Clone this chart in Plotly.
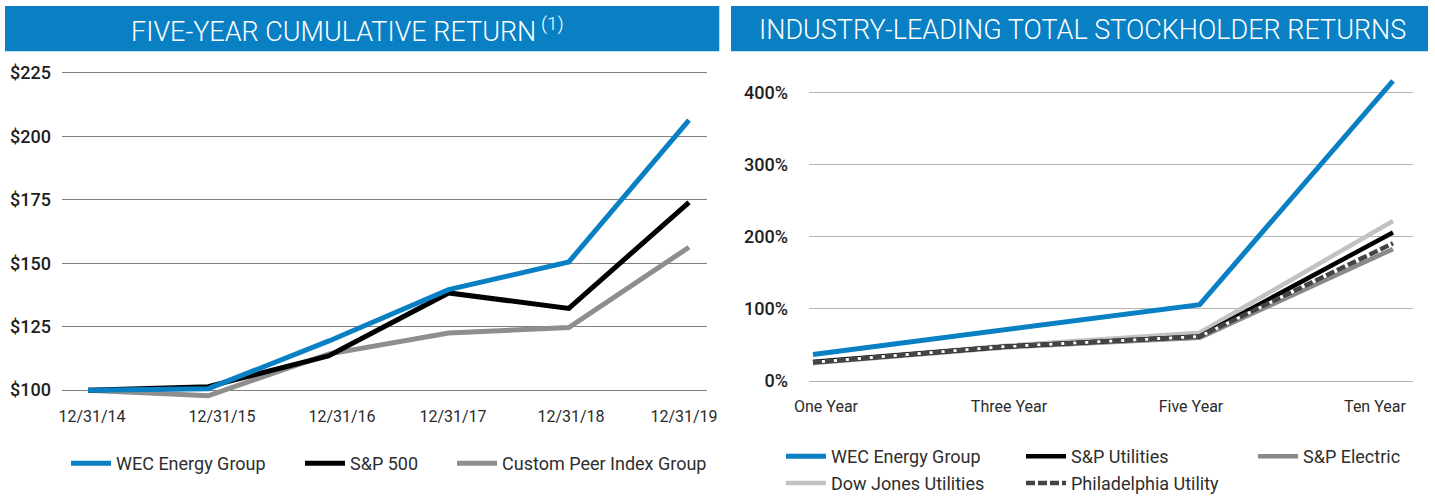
import plotly.graph_objects as go

# ---------------- data ----------------
dates = ["12/31/14", "12/31/15", "12/31/16", "12/31/17", "12/31/18", "12/31/19"]
wec_cum = [100, 100.6, 119.3, 139.6, 150.5, 206.4]
sp500_cum = [100, 101.4, 113.5, 138.3, 132.2, 174.0]
peer_cum = [100, 97.8, 114.2, 122.5, 124.7, 156.3]

periods = ["One Year", "Three Year", "Five Year", "Ten Year"]
wec_tsr = [37, 71, 106, 416]
sp_util_tsr = [26.4, 48, 62, 206]
sp_elec_tsr = [25, 47, 60, 183]
dj_util_tsr = [27, 49, 67, 222]
phil_util_tsr = [26, 48, 62, 191]

left_title = "FIVE-YEAR CUMULATIVE RETURN"
right_title = "INDUSTRY-LEADING TOTAL STOCKHOLDER RETURNS"

# ---------------- styling ----------------
W, H = 1435, 502
BLUE = "#0a80c4"
FONT = "Roboto"
TXT = "#2b2b2b"


def px(x):
    return x / W


def py(y):
    return 1 - y / H


fig = go.Figure()

# left chart traces
left_series = [
    ("Custom Peer Index Group", peer_cum, "#8e8e8e", 5, "legend3"),
    ("S&P 500", sp500_cum, "#000000", 5, "legend2"),
    ("WEC Energy Group", wec_cum, BLUE, 5, "legend"),
]
for name, vals, col, w, lg in left_series:
    fig.add_trace(go.Scatter(x=dates, y=vals, mode="lines", name=name,
                             line=dict(color=col, width=w), xaxis="x", yaxis="y",
                             legend=lg))

# right chart traces
fig.add_trace(go.Scatter(x=periods, y=sp_elec_tsr, mode="lines", name="S&P Electric",
                         line=dict(color="#8a8a8a", width=4.5), xaxis="x2", yaxis="y2",
                         legend="legend6"))
fig.add_trace(go.Scatter(x=periods, y=dj_util_tsr, mode="lines", name="Dow Jones Utilities",
                         line=dict(color="#c2c2c2", width=4.5), xaxis="x2", yaxis="y2",
                         legend="legend7"))
fig.add_trace(go.Scatter(x=periods, y=sp_util_tsr, mode="lines", name="S&P Utilities",
                         line=dict(color="#000000", width=4.5), xaxis="x2", yaxis="y2",
                         legend="legend5"))
fig.add_trace(go.Scatter(x=periods, y=phil_util_tsr, mode="lines", name="Philadelphia Utility",
                         line=dict(color="#ffffff", width=3), xaxis="x2", yaxis="y2",
                         showlegend=False, hoverinfo="skip"))
fig.add_trace(go.Scatter(x=periods, y=phil_util_tsr, mode="lines", name="Philadelphia Utility",
                         line=dict(color="#444444", width=4.5, dash="9px,3px"),
                         xaxis="x2", yaxis="y2", legend="legend8"))
fig.add_trace(go.Scatter(x=periods, y=wec_tsr, mode="lines", name="WEC Energy Group",
                         line=dict(color=BLUE, width=5), xaxis="x2", yaxis="y2",
                         legend="legend4"))

# ---------------- axes ----------------
L_X0, L_X1 = 62, 706.7
L_P0, L_STEP = 88, 120.2
R_X0, R_X1 = 809, 1413
R_P0, R_STEP = 813, 193.33

l_range = [(L_X0 - L_P0) / L_STEP, (L_X1 - L_P0) / L_STEP]
r_range = [(R_X0 - R_P0) / R_STEP, (R_X1 - R_P0) / R_STEP]

# label centres (px) -> positions along the category index
l_label_px = [92, 222, 342, 453, 571, 684]
r_label_px = [826, 1009, 1191, 1375]
l_tickpos = [(p - L_P0) / L_STEP for p in l_label_px]
r_tickpos = [(p - R_P0) / R_STEP for p in r_label_px]

tickfont_x = dict(family=FONT, size=16, color=TXT)
tickfont_y = dict(family=FONT, size=18, color="#1e1e1e", weight=500)

# left y: $100 at 396.5px, $225 at 74px
l_ppu = (396.5 - 74) / 125
l_yr = [96, 226]
l_top = 74 - (226 - 225) * l_ppu
l_bot = 396.5 + (100 - 96) * l_ppu

# right y: 0% at 387.3px, 400% at 94px
r_ppu = (387.3 - 94) / 400
r_yr = [-5, 425]
r_top = 94 - (425 - 400) * r_ppu
r_bot = 387.3 + 5 * r_ppu

common = dict(zeroline=False, showline=False, automargin=False)

fig.update_layout(
    width=W, height=H, autosize=False,
    margin=dict(l=0, r=0, t=0, b=0, pad=0),
    paper_bgcolor="white", plot_bgcolor="white",
    font=dict(family=FONT, color=TXT),
    xaxis=dict(domain=[px(L_X0), px(L_X1)], type="category", range=l_range,
               showticklabels=False, showgrid=False, anchor="y", **common),
    xaxis3=dict(overlaying="x", anchor="y", range=l_range, tickmode="array",
                tickvals=l_tickpos, ticktext=dates, tickfont=tickfont_x,
                showgrid=False, ticks="", ticklabelstandoff=5, **common),
    yaxis=dict(domain=[py(l_bot), py(l_top)], range=l_yr, tick0=100, dtick=25,
               tickprefix="$", showgrid=True, gridcolor="#7f7f7f", gridwidth=1,
               tickfont=tickfont_y, ticklabelstandoff=10, anchor="x", **common),
    xaxis2=dict(domain=[px(R_X0), px(R_X1)], type="category", range=r_range,
                showticklabels=False, showgrid=False, anchor="y2", **common),
    xaxis4=dict(overlaying="x2", anchor="y2", range=r_range, tickmode="array",
                tickvals=r_tickpos, ticktext=periods, tickfont=tickfont_x,
                showgrid=False, ticks="", ticklabelstandoff=10, **common),
    yaxis2=dict(domain=[py(r_bot), py(r_top)], range=r_yr, tick0=0, dtick=100,
                ticksuffix="%", showgrid=True, gridcolor="#b4b4b4", gridwidth=1,
                tickfont=tickfont_y, ticklabelstandoff=20, anchor="x2", **common),
    showlegend=True,
)

# dummy traces to attach overlay axes
fig.add_trace(go.Scatter(x=[None], y=[None], xaxis="x3", yaxis="y", showlegend=False,
                         hoverinfo="skip"))
fig.add_trace(go.Scatter(x=[None], y=[None], xaxis="x4", yaxis="y2", showlegend=False,
                         hoverinfo="skip"))

# ---------------- legends (one per series, positioned like the reference) ----
legfont = dict(family=FONT, size=18, color="#2e2e2e")
leg_pos = {
    "legend": (108, 471),
    "legend2": (342, 471),
    "legend3": (494, 471),
    "legend4": (823, 464),
    "legend5": (1063, 464),
    "legend6": (1295, 464),
    "legend7": (823, 491),
    "legend8": (1063, 491),
}
for key, (tx, ty) in leg_pos.items():
    fig.update_layout({key: dict(x=px(tx - 42), y=py(ty), xanchor="left", yanchor="middle",
                                 orientation="h", font=legfont, bgcolor="rgba(0,0,0,0)",
                                 borderwidth=0, itemwidth=40, tracegroupgap=0)})

# ---------------- banners ----------------
for x0, x1 in [(5, 719.3), (731, 1428)]:
    fig.add_shape(type="rect", xref="paper", yref="paper",
                  x0=px(x0), x1=px(x1), y0=py(52), y1=py(6),
                  fillcolor=BLUE, line=dict(width=0), layer="below")

title_font = dict(family=FONT, size=27, color="white", weight=300)
fig.add_annotation(text=left_title + "<sup> (1)</sup>", xref="paper", yref="paper",
                   x=px(347.5), y=py(30), xanchor="center", yanchor="middle",
                   showarrow=False, font=title_font)
fig.add_annotation(text=right_title, xref="paper", yref="paper",
                   x=px(1082), y=py(30), xanchor="center", yanchor="middle",
                   showarrow=False, font=title_font)

page_js = (
    "document.documentElement.style.margin='0';"
    "document.documentElement.style.overflow='hidden';"
    "document.body.style.margin='0';"
    "document.body.style.overflow='hidden';"
    "var g=document.querySelector('.plotly-graph-div');"
    "if(g){g.style.position='absolute';g.style.left='0px';g.style.top='0px';}"
)
fig.write_html("out.html",
               config={"displayModeBar": False, "responsive": False},
               post_script=page_js)
